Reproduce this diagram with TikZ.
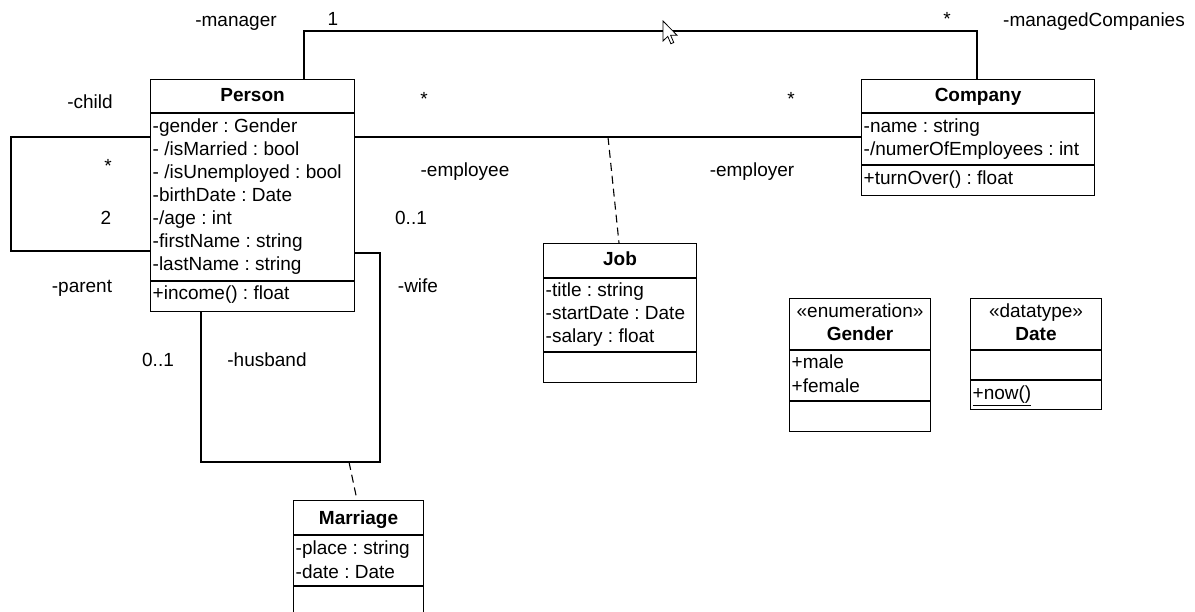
\documentclass[tikz,border=0pt]{standalone}
\usepackage{fontspec}
\setmainfont{Liberation Sans}
\frenchspacing
\begin{document}
\begin{tikzpicture}[x=1pt,y=-1pt,
  font=\fontsize{19}{23}\selectfont\frenchspacing,
  box/.style={draw, anchor=north west, inner sep=0pt, line width=1.1pt, fill=white},
  ttl/.style={anchor=base, inner sep=0pt, font=\fontsize{19}{23}\selectfont\bfseries},
  ster/.style={anchor=base, inner sep=0pt},
  attr/.style={anchor=base west, inner sep=0pt, xshift=2.5pt},
  lbl/.style={anchor=base, inner sep=0pt},
  conn/.style={line width=1.1pt},
  dconn/.style={line width=1.1pt, dash pattern=on 8pt off 5pt},
  sep/.style={line width=1.1pt}
]
\clip (0,0) rectangle (1195,612);
\fill[white] (0,0) rectangle (1195,612);

% ---------- class boxes ----------
\node[box, minimum width=204pt, minimum height=232pt] (person) at (150,79) {};
\node[box, minimum width=233pt, minimum height=116pt] (company) at (861,79) {};
\node[box, minimum width=153pt, minimum height=139pt] (job) at (543,243) {};
\node[box, minimum width=141pt, minimum height=133pt] (gender) at (789,298) {};
\node[box, minimum width=131pt, minimum height=111pt] (date) at (970,298) {};
\node[box, minimum width=130pt, minimum height=140pt] (marriage) at (293,500) {};

% Person
\draw[sep] (person.west |- 0,113) -- (person.east |- 0,113);
\draw[sep] (person.west |- 0,281) -- (person.east |- 0,281);
\node[ttl] (persont) at (person.north |- 0,102) {Person};
\node[attr] (pa1) at (person.west |- 0,133) {-gender : Gender};
\node[attr] (pa2) at (person.west |- 0,156) {- /isMarried : bool};
\node[attr] (pa3) at (person.west |- 0,179) {- /isUnemployed : bool};
\node[attr] (pa4) at (person.west |- 0,202) {-birthDate : Date};
\node[attr] (pa5) at (person.west |- 0,225) {-/age : int};
\node[attr] (pa6) at (person.west |- 0,248) {-firstName : string};
\node[attr] (pa7) at (person.west |- 0,271) {-lastName : string};
\node[attr] (po1) at (person.west |- 0,300) {+income() : float};

% Company
\draw[sep] (company.west |- 0,113) -- (company.east |- 0,113);
\draw[sep] (company.west |- 0,165) -- (company.east |- 0,165);
\node[ttl] (companyt) at (company.north |- 0,102) {Company};
\node[attr] (ca1) at (company.west |- 0,133) {-name : string};
\node[attr] (ca2) at (company.west |- 0,156) {-/numerOfEmployees : int};
\node[attr] (co1) at (company.west |- 0,185) {+turnOver() : float};

% Job
\draw[sep] (job.west |- 0,278) -- (job.east |- 0,278);
\draw[sep] (job.west |- 0,352) -- (job.east |- 0,352);
\node[ttl] (jobt) at (job.north |- 0,266) {Job};
\node[attr] (ja1) at (job.west |- 0,297) {-title : string};
\node[attr] (ja2) at (job.west |- 0,320) {-startDate : Date};
\node[attr] (ja3) at (job.west |- 0,343) {-salary : float};

% Gender
\draw[sep] (gender.west |- 0,350) -- (gender.east |- 0,350);
\draw[sep] (gender.west |- 0,401) -- (gender.east |- 0,401);
\node[ster] (genders) at (gender.north |- 0,318) {«enumeration»};
\node[ttl] (gendert) at (gender.north |- 0,341) {Gender};
\node[attr] (ga1) at (gender.west |- 0,369) {+male};
\node[attr] (ga2) at (gender.west |- 0,392) {+female};

% Date
\draw[sep] (date.west |- 0,350) -- (date.east |- 0,350);
\draw[sep] (date.west |- 0,380) -- (date.east |- 0,380);
\node[ster] (dates) at (date.north |- 0,318) {«datatype»};
\node[ttl] (datet) at (date.north |- 0,341) {Date};
\node[attr] (do1) at (date.west |- 0,400) {\underline{+now()}};

% Marriage
\draw[sep] (marriage.west |- 0,535) -- (marriage.east |- 0,535);
\draw[sep] (marriage.west |- 0,586) -- (marriage.east |- 0,586);
\node[ttl] (marriaget) at (marriage.north |- 0,524) {Marriage};
\node[attr] (ma1) at (marriage.west |- 0,554) {-place : string};
\node[attr] (ma2) at (marriage.west |- 0,578) {-date : Date};

% ---------- connectors ----------
% manager / managedCompanies
\draw[conn] (person.north -| 304,0) -- (304,31) -- (977,31) -- (company.north -| 977,0);
% employee / employer
\draw[conn] (person.east |- 0,137) -- (company.west |- 0,137);
\coordinate (jobjoint) at (608,137);
\draw[dconn] (jobjoint) -- (job.north -| 619,0);
% parent / child
\draw[conn] (person.west |- 0,137) -- (11,137) -- (11,251) -- (person.west |- 0,251);
% wife / husband
\draw[conn] (person.east |- 0,253) -- (380,253) -- (380,462) -- (201,462) -- (person.south -| 201,0);
\coordinate (marjoint) at (349,462);
\draw[dconn] (marjoint) -- (marriage.north -| 357,0);

% ---------- labels ----------
\node[lbl] (lmanager) at (236,27) {-manager};
\node[lbl] (lone) at (333,26) {1};
\node[lbl] (lmcstar) at (947,26) {*};
\node[lbl] (lmc) at (1094,27) {-managedCompanies};
\node[lbl] (lchild) at (90,109) {-child};
\node[lbl] (lempstar) at (424,106) {*};
\node[lbl] (lerstar) at (791,106) {*};
\node[lbl] (lchstar) at (108,173) {*};
\node[lbl] (lemployee) at (465,177) {-employee};
\node[lbl] (lemployer) at (752,177) {-employer};
\node[lbl] (ltwo) at (106,225) {2};
\node[lbl] (lwifem) at (411,225) {0..1};
\node[lbl] (lparent) at (82,293) {-parent};
\node[lbl] (lwife) at (418,293) {-wife};
\node[lbl] (lhusm) at (158,367) {0..1};
\node[lbl] (lhusband) at (267,367) {-husband};

% ---------- mouse cursor ----------
\begin{scope}[shift={(663,21)}, scale=1.25]
\draw[fill=white, line width=0.8pt, line join=miter]
  (0,0) -- (0,16) -- (3.8,12.3) -- (6.3,18.2) -- (8.6,17.2) -- (6.1,11.4) -- (11.2,11.4) -- cycle;
\end{scope}
\end{tikzpicture}
\end{document}
